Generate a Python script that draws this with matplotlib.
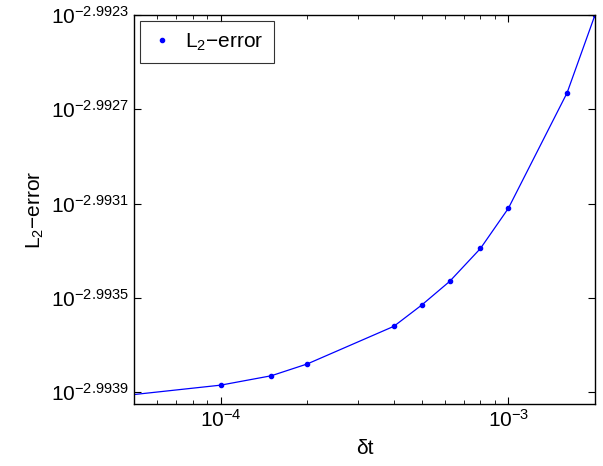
import numpy as np
import matplotlib as mpl
mpl.use('Agg')
import matplotlib.pyplot as plt
from matplotlib.ticker import FixedLocator, FixedFormatter, LogLocator, NullLocator, NullFormatter

mpl.rcParams['font.family'] = 'Liberation Sans'
mpl.rcParams['mathtext.fontset'] = 'custom'
mpl.rcParams['mathtext.rm'] = 'Liberation Sans'
mpl.rcParams['mathtext.it'] = 'Liberation Sans'
mpl.rcParams['mathtext.default'] = 'regular'

#
# data
#
dt = [5e-5, 1e-4, 1.5e-4, 2e-4, 4e-4, 5e-4, 6.25e-4, 8e-4, 1e-3, 1.6e-3, 2e-3]
err = [1.014122e-3, 1.014215e-3, 1.014308e-3, 1.014425e-3, 1.014798e-3,
       1.015009e-3, 1.015243e-3, 1.015570e-3, 1.015968e-3, 1.017115e-3,
       1.017888e-3]

ytick_exp = ['-2.9939', '-2.9935', '-2.9931', '-2.9927', '-2.9923']
xtick_vals = [1e-4, 1e-3]
xtick_labels = [r'$10^{-4}$', r'$10^{-3}$']

fig = plt.figure(figsize=(6.03, 4.66), dpi=100)
ax = fig.add_axes([0.2222, 0.1330, 0.7645, 0.8348])

ax.loglog(dt, err, '-', color='blue', lw=0.9)
# first point sits on the left edge and shows no marker in the original
ax.loglog(dt[1:], err[1:], '.', color='blue', ms=6, label=r'L$_2$−error')

ax.set_xlim(5e-5, 2e-3)
ax.set_ylim(10 ** -2.99395, 10 ** -2.9923)

# ticks, matlab style
ax.xaxis.set_major_locator(FixedLocator(xtick_vals))
ax.xaxis.set_major_formatter(FixedFormatter(xtick_labels))
ax.xaxis.set_minor_locator(LogLocator(base=10, subs=np.arange(2, 10)))
ax.xaxis.set_minor_formatter(NullFormatter())
ax.yaxis.set_major_locator(FixedLocator([10 ** float(e) for e in ytick_exp]))
ax.yaxis.set_major_formatter(FixedFormatter([r'$10^{%s}$' % e.replace('-', '−') for e in ytick_exp]))
ax.yaxis.set_minor_locator(NullLocator())
ax.tick_params(which='both', direction='in', top=True, right=True, labelsize=15)
ax.tick_params(which='major', length=5, width=0.8)
ax.tick_params(which='minor', length=3, width=0.6)
for s in ax.spines.values():
    s.set_linewidth(1.0)

ax.set_xlabel('δt', fontsize=15, labelpad=6)
ax.set_ylabel(r'L$_2$−error', fontsize=15, labelpad=4)

leg = ax.legend(loc='upper left', fontsize=15, frameon=True, fancybox=False,
                borderpad=0.5, handletextpad=0.55, handlelength=1.1,
                borderaxespad=0.3, markerscale=1.0)
leg.get_frame().set_edgecolor('black')
leg.get_frame().set_linewidth(0.8)

fig.savefig('out.png', dpi=100)
